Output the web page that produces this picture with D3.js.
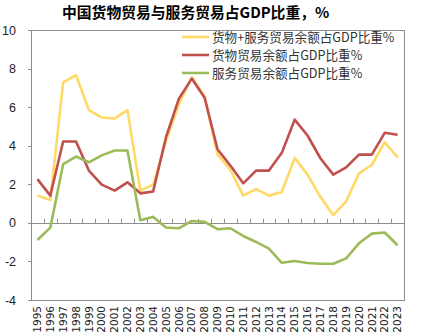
<!DOCTYPE html>
<html><head><meta charset="utf-8">
<script src="https://cdn.jsdelivr.net/npm/d3@7"></script>
<style>
html,body{margin:0;padding:0;background:#fff;}
svg{display:block;}
</style></head>
<body>
<script>
const years = ["1995","1996","1997","1998","1999","2000","2001","2002","2003","2004","2005","2006","2007","2008","2009","2010","2011","2012","2013","2014","2015","2016","2017","2018","2019","2020","2021","2022","2023"];
const totalBalance = [1.42,1.18,7.28,7.66,5.85,5.46,5.42,5.85,1.67,1.98,4.25,6.15,7.55,6.55,3.55,2.74,1.41,1.75,1.41,1.60,3.37,2.50,1.35,0.40,1.11,2.57,3.00,4.18,3.40];
const goodsBalance = [2.27,1.41,4.22,4.22,2.71,1.98,1.67,2.10,1.53,1.63,4.45,6.44,7.48,6.49,3.82,2.97,2.05,2.71,2.71,3.63,5.35,4.53,3.35,2.50,2.88,3.54,3.54,4.67,4.57];
const servicesBalance = [-0.89,-0.25,3.05,3.44,3.14,3.50,3.75,3.75,0.14,0.31,-0.24,-0.28,0.10,0.05,-0.33,-0.28,-0.68,-0.99,-1.34,-2.07,-1.98,-2.08,-2.12,-2.12,-1.84,-1.06,-0.56,-0.50,-1.16];
const yTicks = [-4,-2,0,2,4,6,8,10];
const seriesNames = ["货物+服务贸易余额占GDP比重%","货物贸易余额占GDP比重%","服务贸易余额占GDP比重%"];
const seriesColors = ["#FFD966","#C0504D","#9BBB59"];
const title = "中国货物贸易与服务贸易占GDP比重，%";

const W = 424, H = 336;
const L = 31, R = 404, T = 30, B = 300;
const svg = d3.select("body").append("svg").attr("width", W).attr("height", H);

const x = d3.scaleBand().domain(years).range([L, R]).padding(0);
const y = d3.scaleLinear().domain([-4, 10]).range([B, T]);
const cx = d => x(d) + x.bandwidth() / 2;

// title
svg.append("text").attr("x", 62).attr("y", 18)
  .attr("font-family", "'Noto Sans CJK SC', sans-serif").attr("font-weight", "bold")
  .attr("font-size", 14.8).attr("fill", "#000").text(title);

// plot frame
svg.append("rect").attr("x", L).attr("y", T).attr("width", R - L).attr("height", B - T)
  .attr("fill", "none").attr("stroke", "#8c8c8c").attr("stroke-width", 1)
  .attr("shape-rendering", "crispEdges");

// y axis
const yAxis = d3.axisLeft(y).tickValues(yTicks).tickSize(3).tickPadding(12).tickFormat(d => String(d));
const gy = svg.append("g").attr("transform", `translate(${L},0)`).call(yAxis);
gy.select(".domain").attr("stroke", "#8c8c8c").attr("shape-rendering", "crispEdges");
gy.selectAll(".tick line").attr("stroke", "#8c8c8c").attr("shape-rendering", "crispEdges");
gy.selectAll(".tick text").attr("font-family", "'Liberation Sans', sans-serif").attr("font-size", 12.5).attr("fill", "#222");

// zero axis with category boundary ticks pointing up
const xAxis = d3.axisTop(x).tickSize(0).tickFormat("");
const gx0 = svg.append("g").attr("transform", `translate(0,${y(0)})`).call(xAxis);
gx0.select(".domain").attr("stroke", "#8c8c8c").attr("shape-rendering", "crispEdges");
gx0.selectAll(".tick").remove();
gx0.selectAll("line.bnd").data(years.slice(1)).enter().append("line")
  .attr("class", "bnd")
  .attr("x1", d => Math.round(x(d)) + 0.5).attr("x2", d => Math.round(x(d)) + 0.5)
  .attr("y1", 0).attr("y2", -4).attr("stroke", "#8c8c8c");

// bottom category labels
const xAxisB = d3.axisBottom(x).tickSize(0).tickPadding(0);
const gxb = svg.append("g").attr("transform", `translate(0,${B})`).call(xAxisB);
gxb.select(".domain").remove();
gxb.selectAll(".tick text")
  .attr("font-family", "'DejaVu Sans', sans-serif").attr("font-size", 10.5).attr("fill", "#222")
  .attr("text-anchor", "end").attr("dy", "0.35em")
  .attr("transform", "translate(0,6) rotate(-90)").attr("x", 0).attr("y", 0);

// lines
const allSeries = [totalBalance, goodsBalance, servicesBalance];
const line = d3.line().x((d, i) => cx(years[i])).y(d => y(d));
allSeries.forEach((s, k) => {
  svg.append("path").datum(s).attr("d", line).attr("fill", "none")
    .attr("stroke", seriesColors[k]).attr("stroke-width", 2.6)
    .attr("stroke-linejoin", "round");
});

// legend
const lg = svg.append("g");
seriesNames.forEach((n, k) => {
  const ly = 37 + k * 18;
  lg.append("line").attr("x1", 182).attr("x2", 209).attr("y1", ly).attr("y2", ly)
    .attr("stroke", seriesColors[k]).attr("stroke-width", 2.6);
  lg.append("text").attr("x", 212).attr("y", ly + 4.5)
    .attr("font-family", "'Noto Sans CJK SC', sans-serif").attr("font-size", 12.6)
    .attr("fill", "#333").text(n);
});
</script>
</body></html>
